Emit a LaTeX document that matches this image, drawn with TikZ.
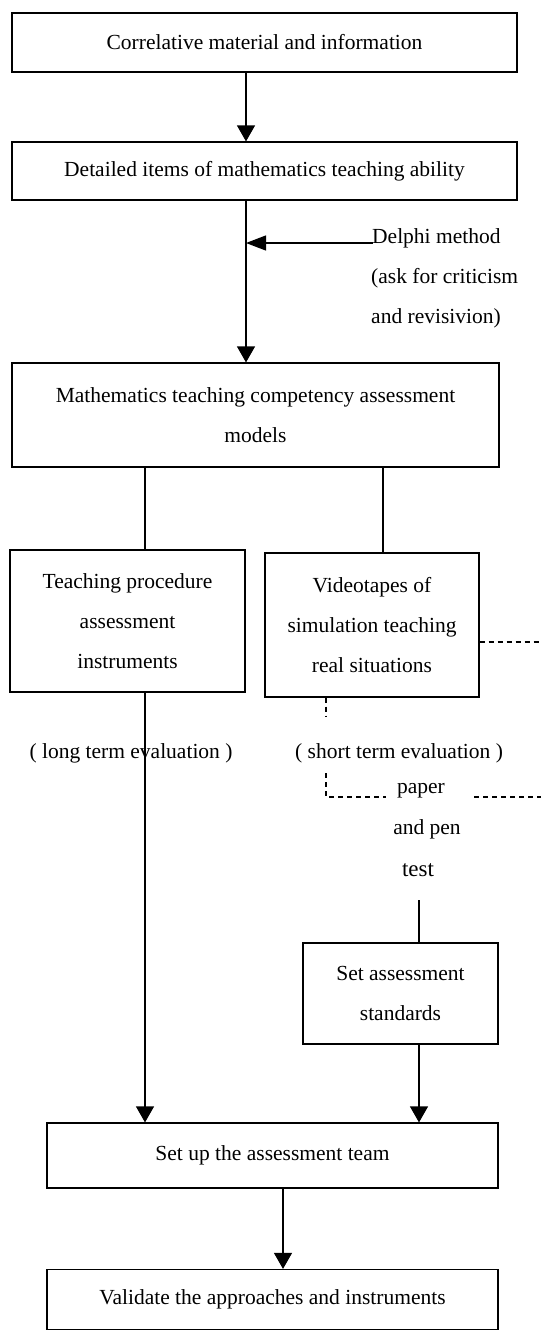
\documentclass[tikz,border=0pt]{standalone}
\usepackage{fontspec}
\setmainfont{Liberation Serif}
\usetikzlibrary{arrows.meta}
\begin{document}
\begin{tikzpicture}[x=1pt,y=-1pt,
  box/.style={draw,line width=1.2pt,inner sep=0pt,align=center,font=\fontsize{21.5}{40}\selectfont},
  lab/.style={inner sep=0pt,align=left,font=\fontsize{21.5}{40}\selectfont},
  conn/.style={line width=1.2pt},
  arr/.style={line width=1.2pt,-{Triangle[length=16pt,width=18pt]}},
  larr/.style={line width=1.2pt,-{Triangle[length=20pt,width=15pt]}},
  dsh/.style={line width=1.2pt,dash pattern=on 5pt off 4pt}]
\useasboundingbox (0,0) rectangle (541,1331);
% boxes
\node[box,minimum width=505pt,minimum height=59pt] (b1) at (264.5,42.5) {Correlative material and information};
\node[box,minimum width=505pt,minimum height=58pt] (b2) at (264.5,171) {Detailed items of mathematics teaching ability};
\node[box,minimum width=487pt,minimum height=104pt] (b3) at (255.5,415) {Mathematics teaching competency assessment\\models};
\node[box,minimum width=235pt,minimum height=142pt] (b4) at (127.5,621) {Teaching procedure\\assessment\\instruments};
\node[box,minimum width=214pt,minimum height=144pt] (b5) at (372,625) {Videotapes of\\simulation teaching\\real situations};
\node[box,minimum width=195pt,minimum height=101pt] (b7) at (400.5,993.5) {Set assessment\\standards};
\node[box,minimum width=451pt,minimum height=65pt] (b6) at (272.5,1155.5) {Set up the assessment team};
\node[box,minimum width=451pt,minimum height=60pt] (b8) at (272.5,1299.5) {Validate the approaches and instruments};
% labels
\node[lab,anchor=base west] (delphi) at (372,243) {Delphi method};
\node[lab,anchor=base west] (ask) at (371,283) {(ask for criticism};
\node[lab,anchor=base west] (rev) at (371,323) {and revisivion)};
\node[lab,anchor=base] (long) at (131,758) {( long term evaluation )};
\node[lab,anchor=base west] (short) at (295,758) {( short term evaluation )};
\node[lab,anchor=base] (paper) at (421,793) {paper};
\node[lab,anchor=base] (pen) at (427,834) {and pen};
\node[inner sep=0pt,font=\fontsize{23}{26}\selectfont,anchor=base] (test) at (418,876) {test};
% helper coordinates
\coordinate (c1) at (246,0);
\coordinate (c2) at (145,0);
\coordinate (c3) at (383,0);
\coordinate (c4) at (419,0);
\coordinate (c5) at (283,0);
\coordinate (c6) at (326,0);
\coordinate (dj) at (246,243);
\coordinate (ds) at (373,243);
\coordinate (e1) at (541,642);
\coordinate (e2) at (541,797);
\coordinate (e3) at (474,797);
\coordinate (v1) at (326,716);
\coordinate (v2) at (326,773);
\coordinate (v3) at (326,797);
\coordinate (v4) at (386,797);
\coordinate (t1) at (419,900);
% connectors
\draw[arr] (b1.south -| c1) -- (b2.north -| c1);
\draw[arr] (b2.south -| c1) -- (b3.north -| c1);
\draw[larr] (ds) -- (dj);
\draw[conn] (b3.south -| c2) -- (b4.north -| c2);
\draw[conn] (b3.south -| c3) -- (b5.north -| c3);
\draw[arr] (b4.south -| c2) -- (b6.north -| c2);
\draw[conn] (t1) -- (b7.north -| c4);
\draw[arr] (b7.south -| c4) -- (b6.north -| c4);
\draw[arr] (b6.south -| c5) -- (b8.north -| c5);
\draw[dsh] (b5.east |- e1) -- (e1);
\draw[dsh] (b5.south -| c6) -- (v1);
\draw[dsh] (v2) -- (v3) -- (v4);
\draw[dsh] (e3) -- (e2);
\end{tikzpicture}
\end{document}
